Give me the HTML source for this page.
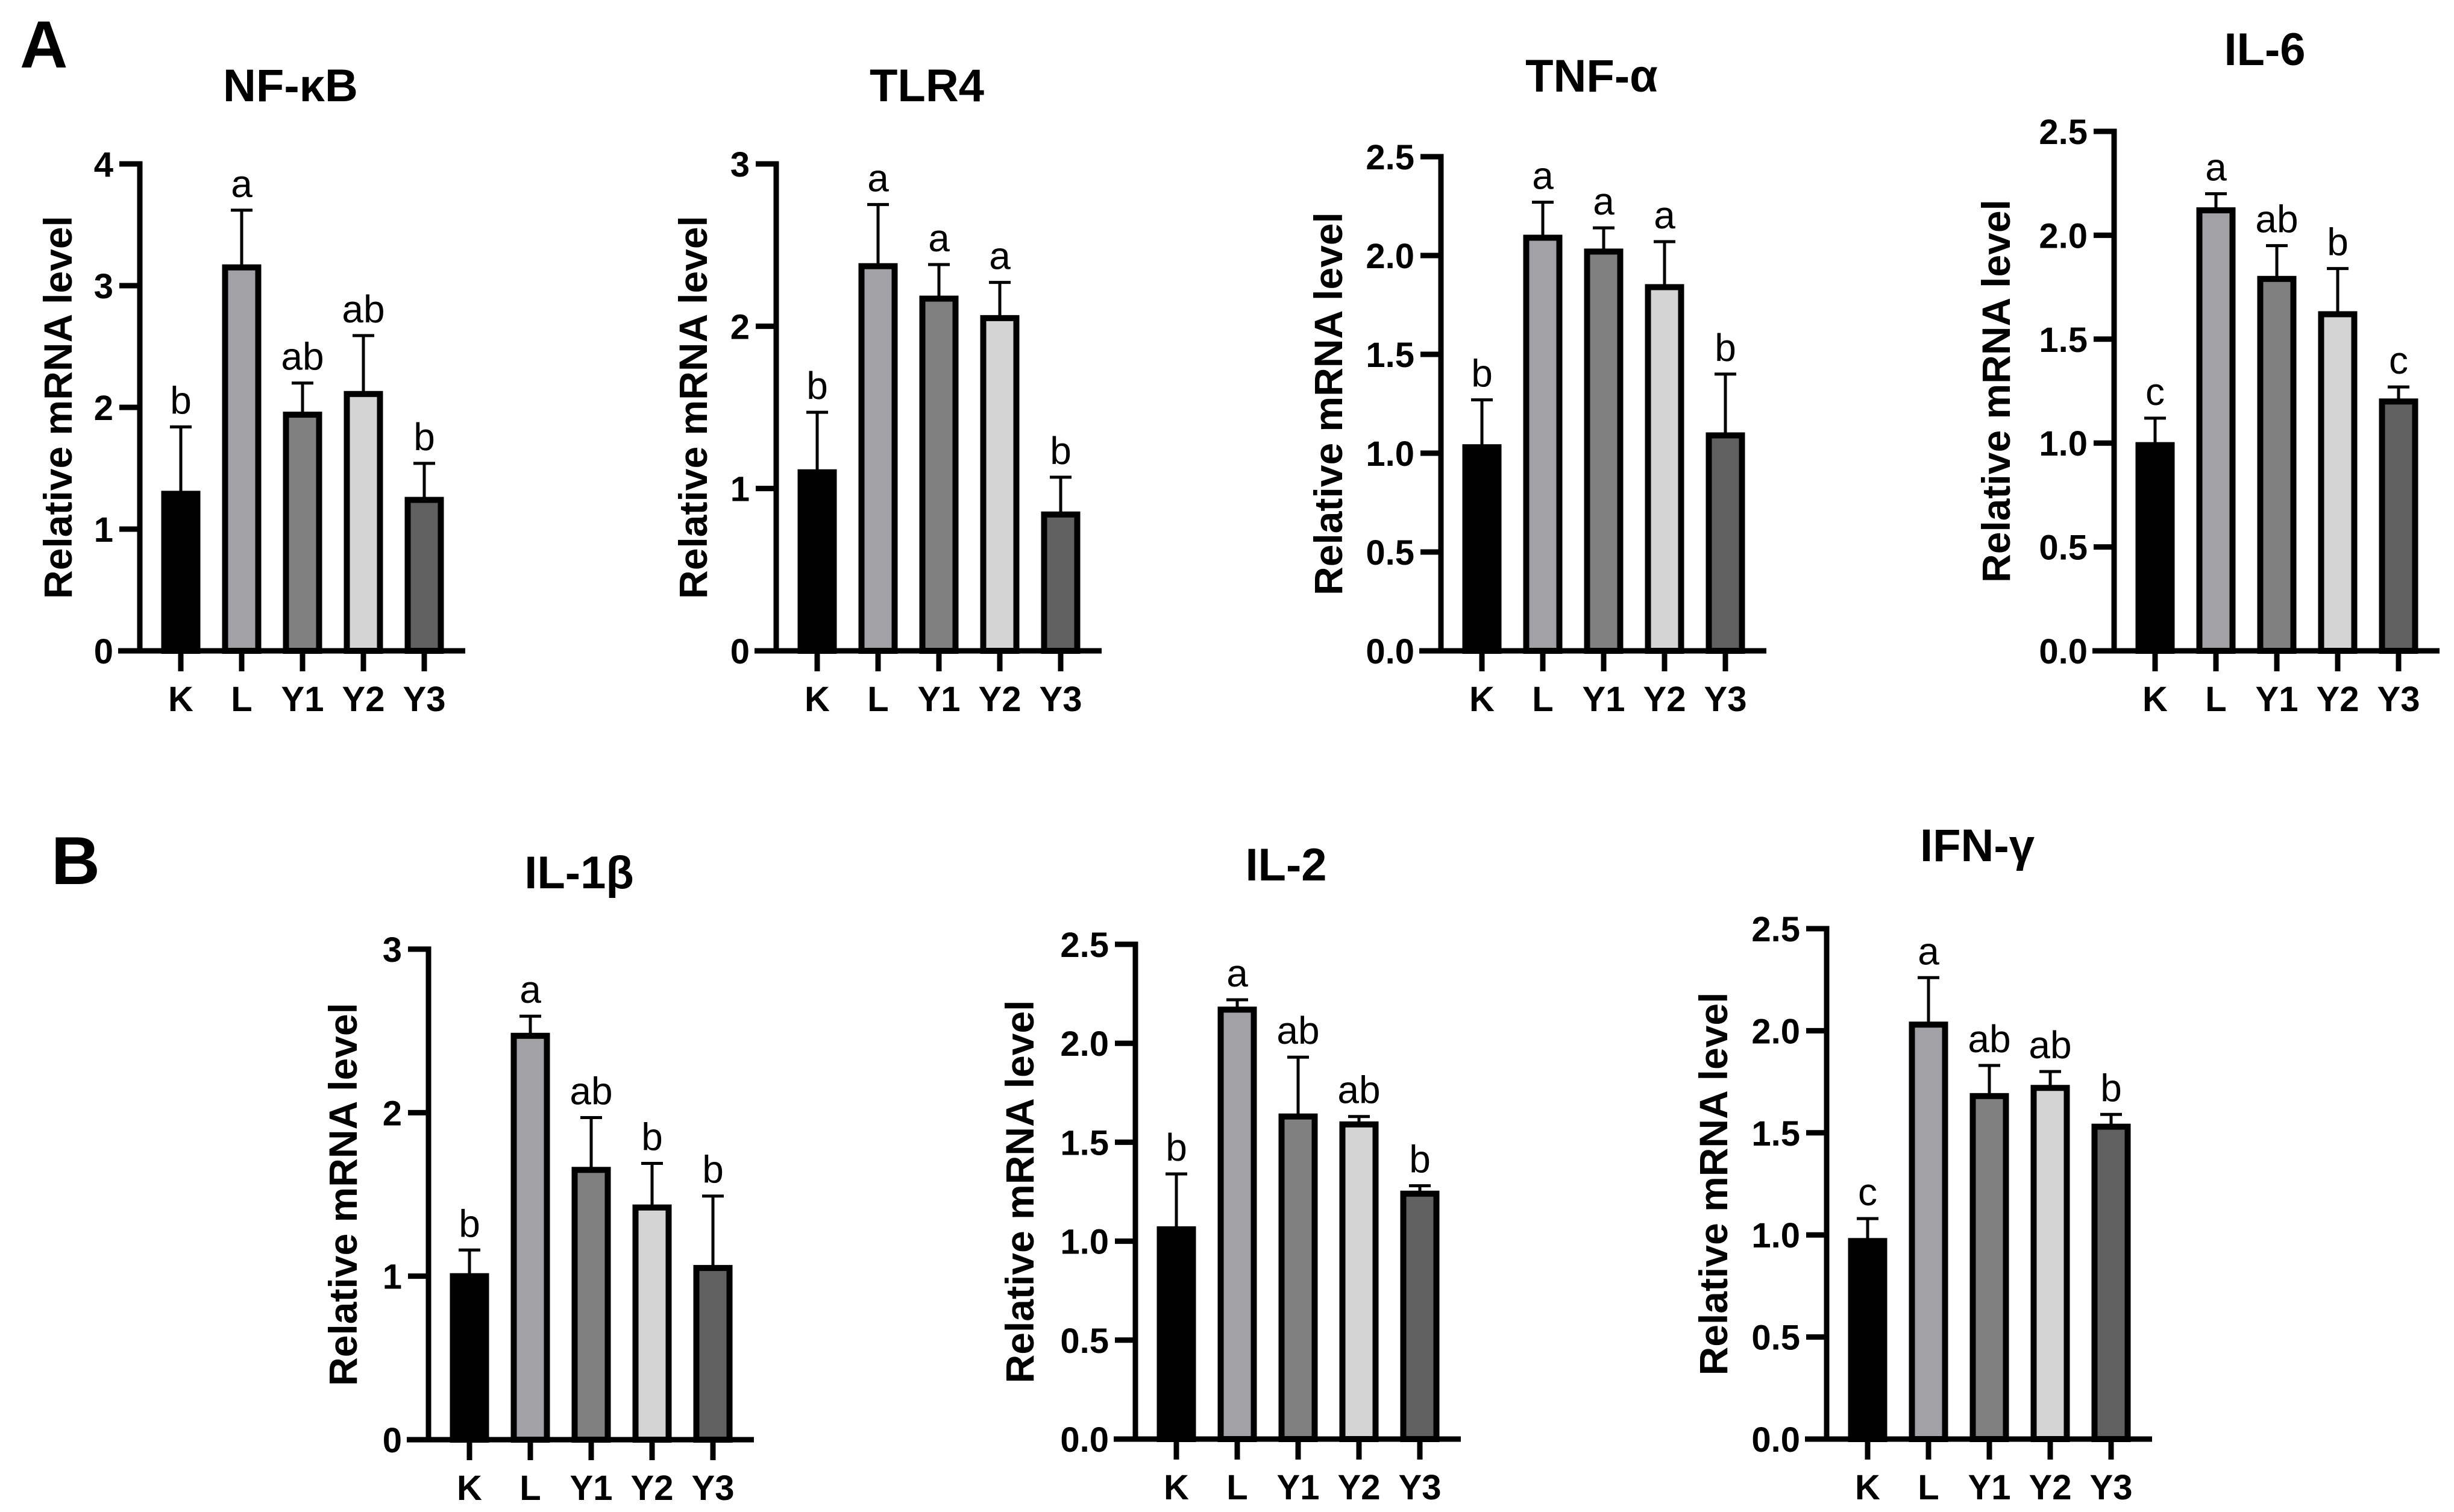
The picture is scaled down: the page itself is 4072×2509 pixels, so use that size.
<!DOCTYPE html>
<html><head><meta charset="utf-8"><style>
html,body{margin:0;padding:0;background:#fff;}
svg{display:block;font-family:"Liberation Sans",Arial,sans-serif;}
</style></head><body>
<svg id="fig" width="4072" height="2509" viewBox="0 0 4072 2509" xmlns="http://www.w3.org/2000/svg">
<rect width="4072" height="2509" fill="#fff"/>
<text x="33" y="112" font-size="110" font-weight="bold">A</text>
<text x="85" y="1467" font-size="112" font-weight="bold">B</text>
</svg>
<script>
const categories = ["K","L","Y1","Y2","Y3"];
const titles = ["NF-κB","TLR4","TNF-α","IL-6","IL-1β","IL-2","IFN-γ"];
const nfkbValues = [1.29,3.15,1.94,2.11,1.24];
const nfkbErrors = [0.55,0.47,0.26,0.48,0.30];
const nfkbLetters = ["b","a","ab","ab","b"];
const tlr4Values = [1.10,2.37,2.17,2.05,0.84];
const tlr4Errors = [0.37,0.38,0.21,0.22,0.23];
const tlr4Letters = ["b","a","a","a","b"];
const tnfValues = [1.03,2.09,2.02,1.84,1.09];
const tnfErrors = [0.24,0.18,0.12,0.23,0.31];
const tnfLetters = ["b","a","a","a","b"];
const il6Values = [0.99,2.12,1.79,1.62,1.20];
const il6Errors = [0.13,0.08,0.16,0.22,0.07];
const il6Letters = ["c","a","ab","b","c"];
const il1bValues = [1.00,2.47,1.65,1.42,1.05];
const il1bErrors = [0.16,0.12,0.32,0.27,0.44];
const il1bLetters = ["b","a","ab","b","b"];
const il2Values = [1.06,2.17,1.63,1.59,1.24];
const il2Errors = [0.28,0.05,0.30,0.04,0.04];
const il2Letters = ["b","a","ab","ab","b"];
const ifnValues = [0.97,2.03,1.68,1.72,1.53];
const ifnErrors = [0.11,0.23,0.15,0.08,0.06];
const ifnLetters = ["c","a","ab","ab","b"];
const ticksInt4 = [0,1,2,3,4];
const ticksInt3 = [0,1,2,3];
const ticksHalf = [0,0.5,1.0,1.5,2.0,2.5];
const tickLabelsInt4 = ["0","1","2","3","4"];
const tickLabelsInt3 = ["0","1","2","3"];
const tickLabelsHalf = ["0.0","0.5","1.0","1.5","2.0","2.5"];

const fills = ["#000000","#a2a2a6","#808080","#d4d4d4","#606060"];
const NS = "http://www.w3.org/2000/svg";
const svg = document.getElementById('fig');
function mk(tag, attrs, parent){const e=document.createElementNS(NS,tag);for(const k in attrs)e.setAttribute(k,attrs[k]);(parent||svg).appendChild(e);return e;}

const charts = [
 {key:"nfkb",title:titles[0],v:nfkbValues,e:nfkbErrors,l:nfkbLetters,ymax:4,ticks:ticksInt4,tl:tickLabelsInt4,ax:232,y0:1080,yt:272,tb:168,yo:113},
 {key:"tlr4",title:titles[1],v:tlr4Values,e:tlr4Errors,l:tlr4Letters,ymax:3,ticks:ticksInt3,tl:tickLabelsInt3,ax:1288,y0:1080,yt:272,tb:168,yo:115},
 {key:"tnf",title:titles[2],v:tnfValues,e:tnfErrors,l:tnfLetters,ymax:2.5,ticks:ticksHalf,tl:tickLabelsHalf,ax:2391,y0:1080,yt:260,tb:152,yo:164},
 {key:"il6",title:titles[3],v:il6Values,e:il6Errors,l:il6Letters,ymax:2.5,ticks:ticksHalf,tl:tickLabelsHalf,ax:3508,y0:1080,yt:218,tb:108,yo:173},
 {key:"il1b",title:titles[4],v:il1bValues,e:il1bErrors,l:il1bLetters,ymax:3,ticks:ticksInt3,tl:tickLabelsInt3,ax:711,y0:2389,yt:1575,tb:1474,yo:119},
 {key:"il2",title:titles[5],v:il2Values,e:il2Errors,l:il2Letters,ymax:2.5,ticks:ticksHalf,tl:tickLabelsHalf,ax:1884,y0:2388,yt:1567,tb:1461,yo:169},
 {key:"ifn",title:titles[6],v:ifnValues,e:ifnErrors,l:ifnLetters,ymax:2.5,ticks:ticksHalf,tl:tickLabelsHalf,ax:3031,y0:2388,yt:1541,tb:1429,yo:165}
];

charts.forEach(c=>{
  const g = mk('g',{});
  
  
  const y = val => c.y0 - (val / c.ymax) * (c.y0 - c.yt);
  const x = i => c.ax + 68 + i * 101;
  const xEnd = c.ax + 540;
  const t = mk('text',{x:(c.ax+xEnd)/2 - 20,y:c.tb,'font-size':76,'font-weight':'bold','text-anchor':'middle'},g);
  t.textContent = c.title;
  
  
  c.v.forEach((val,i)=>{
    const top = y(val);
    const r = mk('rect',{x:x(i)-27.5,y:top,width:55,height:c.y0-top,fill:fills[i],stroke:'#000','stroke-width':10},g);
    
    
    const et = y(val + c.e[i]);
    const eb = mk('path',{d:`M${x(i)} ${top} V${et} M${x(i)-18} ${et} H${x(i)+18}`,stroke:'#000','stroke-width':5,fill:'none'},g);
    
    
    const lt = mk('text',{x:x(i),y:et-22,'font-size':64,'text-anchor':'middle'},g);
    lt.textContent = c.l[i];
    
    
    const tk = mk('line',{x1:x(i),x2:x(i),y1:c.y0,y2:c.y0+34,stroke:'#000','stroke-width':9},g);
    
    
    const cl = mk('text',{x:x(i),y:c.y0+100,'font-size':58,'font-weight':'bold','text-anchor':'middle'},g);
    cl.textContent = categories[i];
    
    
  });
  const ya = mk('line',{x1:c.ax,x2:c.ax,y1:c.yt-4.5,y2:c.y0+4.5,stroke:'#000','stroke-width':9},g);
  
  
  const xa = mk('line',{x1:c.ax-36,x2:xEnd,y1:c.y0,y2:c.y0,stroke:'#000','stroke-width':9},g);
  
  
  c.ticks.forEach((tv,j)=>{
    const ty = y(tv);
    const tl = mk('line',{x1:c.ax-34,x2:c.ax,y1:ty,y2:ty,stroke:'#000','stroke-width':9},g);
    
    
    const tt = mk('text',{x:c.ax-44,y:ty+21,'font-size':58,'font-weight':'bold','text-anchor':'end'},g);
    tt.textContent = c.tl[j];
    
    
  });
  const ym = (c.yt + c.y0)/2, yx = c.ax - c.yo;
  const yt = mk('text',{x:yx,y:ym,'font-size':66,'font-weight':'bold','text-anchor':'middle',transform:`rotate(-90 ${yx} ${ym})`},g);
  yt.textContent = "Relative mRNA level";
  
  
});
</script>
</body></html>
